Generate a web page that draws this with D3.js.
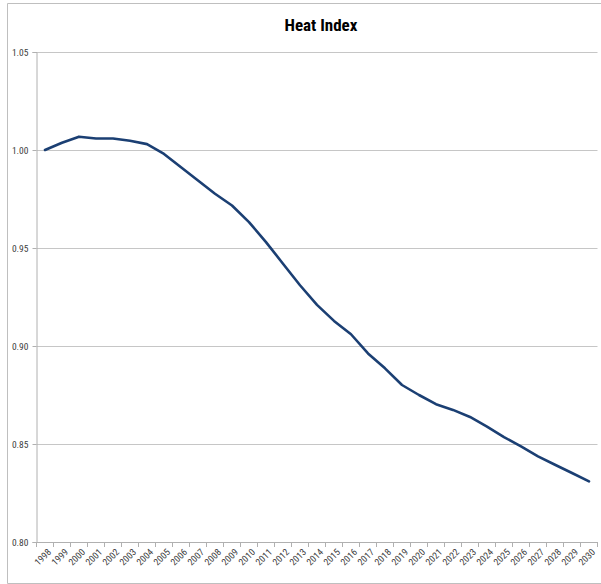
<!DOCTYPE html>
<html>
<head>
<meta charset="utf-8">
<script src="https://cdn.jsdelivr.net/npm/d3@7"></script>
<style>
  html, body { margin: 0; padding: 0; background: #fff; }
  svg { display: block; }
  text { font-family: "Liberation Sans Narrow", "Roboto Condensed", "DejaVu Sans Condensed", sans-serif; }
</style>
</head>
<body>
<svg id="chart" width="601" height="584"></svg>
<script>
// Heat index by year
const years = ["1998","1999","2000","2001","2002","2003","2004","2005","2006","2007","2008",
  "2009","2010","2011","2012","2013","2014","2015","2016","2017","2018","2019","2020",
  "2021","2022","2023","2024","2025","2026","2027","2028","2029","2030"];
const heatIndex = [1.000, 1.0037, 1.0068, 1.0059, 1.0059, 1.0047, 1.003, 0.998, 0.9912,
  0.9844, 0.9777, 0.9717, 0.9632, 0.953, 0.942, 0.931, 0.921, 0.9128, 0.906, 0.8962,
  0.8886, 0.8801, 0.875, 0.8703, 0.8674, 0.8638, 0.8589, 0.8535, 0.8488, 0.8437,
  0.8394, 0.8352, 0.8309];
const yTicks = [0.80, 0.85, 0.90, 0.95, 1.00, 1.05];
const title = "Heat Index";

const svg = d3.select("#chart");
const margin = { left: 36.5, right: 3.5, top: 52, bottom: 42 };
const W = 601, H = 584;

// Chart frame
svg.append("path")
  .attr("d", "M601,3.5 H7.5 V583.5 H601")
  .attr("fill", "none")
  .attr("stroke", "#bfbfbf")
  .attr("stroke-width", 1);

const x = d3.scaleBand()
  .domain(years)
  .range([margin.left, W - margin.right]);

const y = d3.scaleLinear()
  .domain([0.80, 1.05])
  .range([H - margin.bottom, margin.top]);

// Horizontal gridlines
svg.append("g")
  .selectAll("line")
  .data(yTicks.filter(v => v > 0.80))
  .join("line")
  .attr("x1", margin.left)
  .attr("x2", W - margin.right)
  .attr("y1", d => Math.round(y(d)) + 0.5)
  .attr("y2", d => Math.round(y(d)) + 0.5)
  .attr("stroke", "#c6c6c6")
  .attr("stroke-width", 1);

// Y axis
const yAxis = svg.append("g")
  .attr("transform", `translate(${margin.left},0)`)
  .call(d3.axisLeft(y).tickValues(yTicks).tickFormat(d3.format(".2f")).tickSize(4).tickPadding(4));
yAxis.select(".domain").attr("stroke", "#b0b0b0");
yAxis.selectAll(".tick line").attr("stroke", "#b0b0b0");
yAxis.selectAll("text").attr("font-size", 9.5).attr("fill", "#404040");

// X axis with ticks at category boundaries
const xAxisG = svg.append("g")
  .attr("transform", `translate(0,${H - margin.bottom})`);
xAxisG.append("line")
  .attr("x1", margin.left).attr("x2", W - margin.right)
  .attr("y1", 0.5).attr("y2", 0.5)
  .attr("stroke", "#b0b0b0");
const bounds = years.map(d => x(d)).concat([x(years[years.length - 1]) + x.bandwidth()]);
xAxisG.selectAll("line.tk")
  .data(bounds)
  .join("line")
  .attr("class", "tk")
  .attr("x1", d => d).attr("x2", d => d)
  .attr("y1", 0).attr("y2", 5)
  .attr("stroke", "#b0b0b0");

// Slanted year labels
const labelG = xAxisG.selectAll("g.lbl")
  .data(years)
  .join("g")
  .attr("class", "lbl")
  .attr("transform", d => `translate(${x(d) + x.bandwidth() / 2 + 5},9)`);
labelG.append("text")
  .attr("transform", "rotate(-45)")
  .attr("text-anchor", "end")
  .attr("dominant-baseline", "middle")
  .attr("font-size", 9.5)
  .attr("fill", "#404040")
  .text(d => d);

// Series line
const line = d3.line()
  .x((d, i) => x(years[i]) + x.bandwidth() / 2)
  .y(d => y(d));

svg.append("path")
  .datum(heatIndex)
  .attr("d", line)
  .attr("fill", "none")
  .attr("stroke", "#1b3f73")
  .attr("stroke-width", 2.6)
  .attr("stroke-linejoin", "round")
  .attr("stroke-linecap", "round");

// Title
svg.append("text")
  .attr("x", 321)
  .attr("y", 31)
  .attr("text-anchor", "middle")
  .attr("font-size", 17)
  .attr("font-weight", "bold")
  .attr("fill", "#000")
  .text(title);
</script>
</body>
</html>
